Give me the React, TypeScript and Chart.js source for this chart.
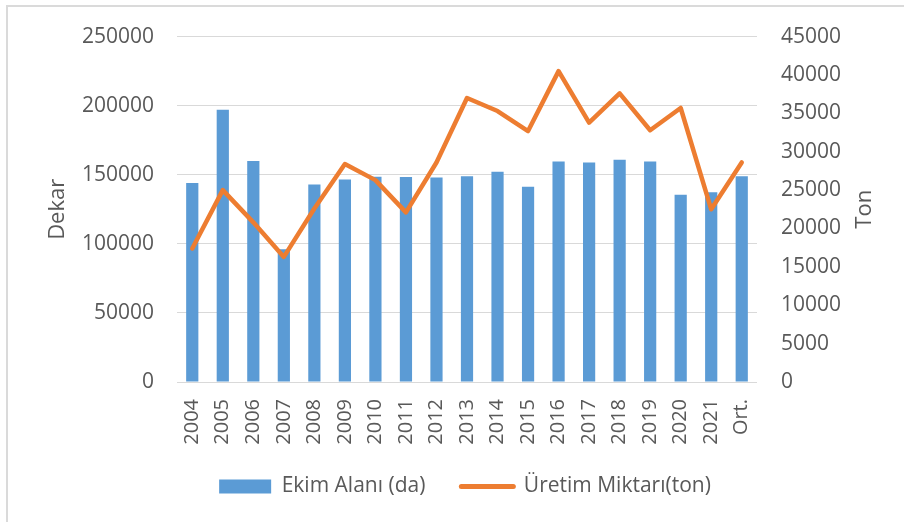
import React, { useEffect, useRef } from 'react';
import { Chart, registerables } from 'chart.js';

Chart.register(...registerables);

const categories = ['2004', '2005', '2006', '2007', '2008', '2009', '2010', '2011', '2012', '2013', '2014', '2015', '2016', '2017', '2018', '2019', '2020', '2021', 'Ort.'];
const ekimAlani = [144000, 197000, 160000, 96000, 143000, 146500, 148500, 148300, 148000, 149000, 152200, 141400, 159600, 158900, 160800, 159600, 135600, 137300, 149000];
const uretimMiktari = [17400, 25000, 20800, 16300, 22600, 28400, 26300, 22100, 28600, 37000, 35300, 32700, 40500, 33800, 37600, 32800, 35700, 22500, 28600];
const seriesNames = ['Ekim Alanı (da)', 'Üretim Miktarı(ton)'];
const axisTitles = ['Dekar', 'Ton'];
const leftRange = [0, 250000, 50000];
const rightRange = [0, 45000, 5000];

const FONT = "'Open Sans', 'Liberation Sans', sans-serif";
const TEXT = '#595959';
const BLUE = '#5B9BD5';
const ORANGE = '#ED7D31';
const GRID = '#D9D9D9';

const titlePlugin = {
  id: 'axisTitlesCustom',
  afterLayout(chart: any) {
    // pull the legend a little closer to the axis labels
    if (chart.legend) {
      chart.legend.top -= 6;
      chart.legend.bottom -= 6;
    }
  },
  afterDraw(chart: any) {
    const { ctx, chartArea } = chart;
    const mid = (chartArea.top + chartArea.bottom) / 2;
    const items: [number, string][] = [
      [chartArea.left - 119, axisTitles[0]],
      [chartArea.right + 108, axisTitles[1]],
    ];
    ctx.save();
    ctx.fillStyle = TEXT;
    ctx.font = `22px ${FONT}`;
    ctx.textAlign = 'center';
    ctx.textBaseline = 'middle';
    items.forEach(([x, t]) => {
      ctx.save();
      ctx.translate(x, mid);
      ctx.rotate(-Math.PI / 2);
      ctx.fillText(t, 0, 0);
      ctx.restore();
    });
    ctx.restore();
  },
};

export default function App() {
  const canvasRef = useRef<HTMLCanvasElement | null>(null);

  useEffect(() => {
    document.body.style.margin = '0';
    const canvas = canvasRef.current;
    if (!canvas) return;
    const tickFont = { family: FONT, size: 21 };
    const xTickFont = { family: FONT, size: 20 };
    const chart = new Chart(canvas, {
      type: 'bar',
      data: {
        labels: categories,
        datasets: [
          {
            type: 'bar',
            label: seriesNames[0],
            data: ekimAlani,
            backgroundColor: BLUE,
            borderWidth: 0,
            yAxisID: 'y',
            categoryPercentage: 1,
            barPercentage: 0.4,
            order: 2,
          } as any,
          {
            type: 'line',
            label: seriesNames[1],
            data: uretimMiktari,
            borderColor: ORANGE,
            backgroundColor: ORANGE,
            borderWidth: 4.5,
            pointRadius: 0,
            pointHoverRadius: 0,
            borderJoinStyle: 'round',
            borderCapStyle: 'round',
            tension: 0,
            yAxisID: 'y1',
            order: 1,
          } as any,
        ],
      },
      options: {
        responsive: false,
        animation: false,
        devicePixelRatio: 1,
        events: [],
        layout: { padding: { left: 26, right: 0, top: 35, bottom: 9 } },
        scales: {
          x: {
            grid: { display: false, drawTicks: false },
            border: { display: false },
            ticks: {
              autoSkip: false,
              maxRotation: 90,
              minRotation: 90,
              padding: 17,
              color: TEXT,
              font: xTickFont,
            },
            afterFit: (s: any) => {
              s.height = 64;
            },
          },
          y: {
            position: 'left',
            min: leftRange[0],
            max: leftRange[1],
            grid: { color: GRID, lineWidth: 1, drawTicks: false },
            border: { display: false },
            ticks: {
              stepSize: leftRange[2],
              padding: 23,
              color: TEXT,
              font: tickFont,
              callback: (v: any) => String(v),
            },
            afterFit: (s: any) => {
              s.width = 151;
            },
          },
          y1: {
            position: 'right',
            min: rightRange[0],
            max: rightRange[1],
            grid: { display: false, drawTicks: false },
            border: { display: false },
            ticks: {
              stepSize: rightRange[2],
              padding: 24,
              color: TEXT,
              font: tickFont,
              callback: (v: any) => String(v),
            },
            afterFit: (s: any) => {
              s.width = 147;
            },
          },
        },
        plugins: {
          tooltip: { enabled: false },
          legend: {
            position: 'bottom',
            labels: {
              usePointStyle: true,
              pointStyleWidth: 52,
              boxHeight: 14,
              padding: 36,
              color: TEXT,
              font: { family: FONT, size: 21 },
              generateLabels: () => [
                {
                  text: seriesNames[0],
                  fillStyle: BLUE,
                  strokeStyle: BLUE,
                  lineWidth: 0,
                  pointStyle: 'rect',
                  datasetIndex: 0,
                  hidden: false,
                  fontColor: TEXT,
                },
                {
                  text: seriesNames[1],
                  fillStyle: ORANGE,
                  strokeStyle: ORANGE,
                  lineWidth: 5,
                  lineCap: 'round',
                  pointStyle: 'line',
                  datasetIndex: 1,
                  hidden: false,
                  fontColor: TEXT,
                },
              ],
            },
          },
        },
      } as any,
      plugins: [titlePlugin],
    });
    return () => {
      chart.destroy();
    };
  }, []);

  return (
    <div style={{ position: 'relative', width: 904, height: 522, overflow: 'hidden', background: '#fff' }}>
      <div
        style={{
          position: 'absolute',
          left: 6,
          top: 5,
          width: 960,
          height: 600,
          border: '2px solid #DADADA',
          boxSizing: 'border-box',
        }}
      />
      <canvas
        ref={canvasRef}
        width={904}
        height={522}
        style={{ position: 'absolute', left: 0, top: 0, width: 904, height: 522, display: 'block' }}
      />
    </div>
  );
}
